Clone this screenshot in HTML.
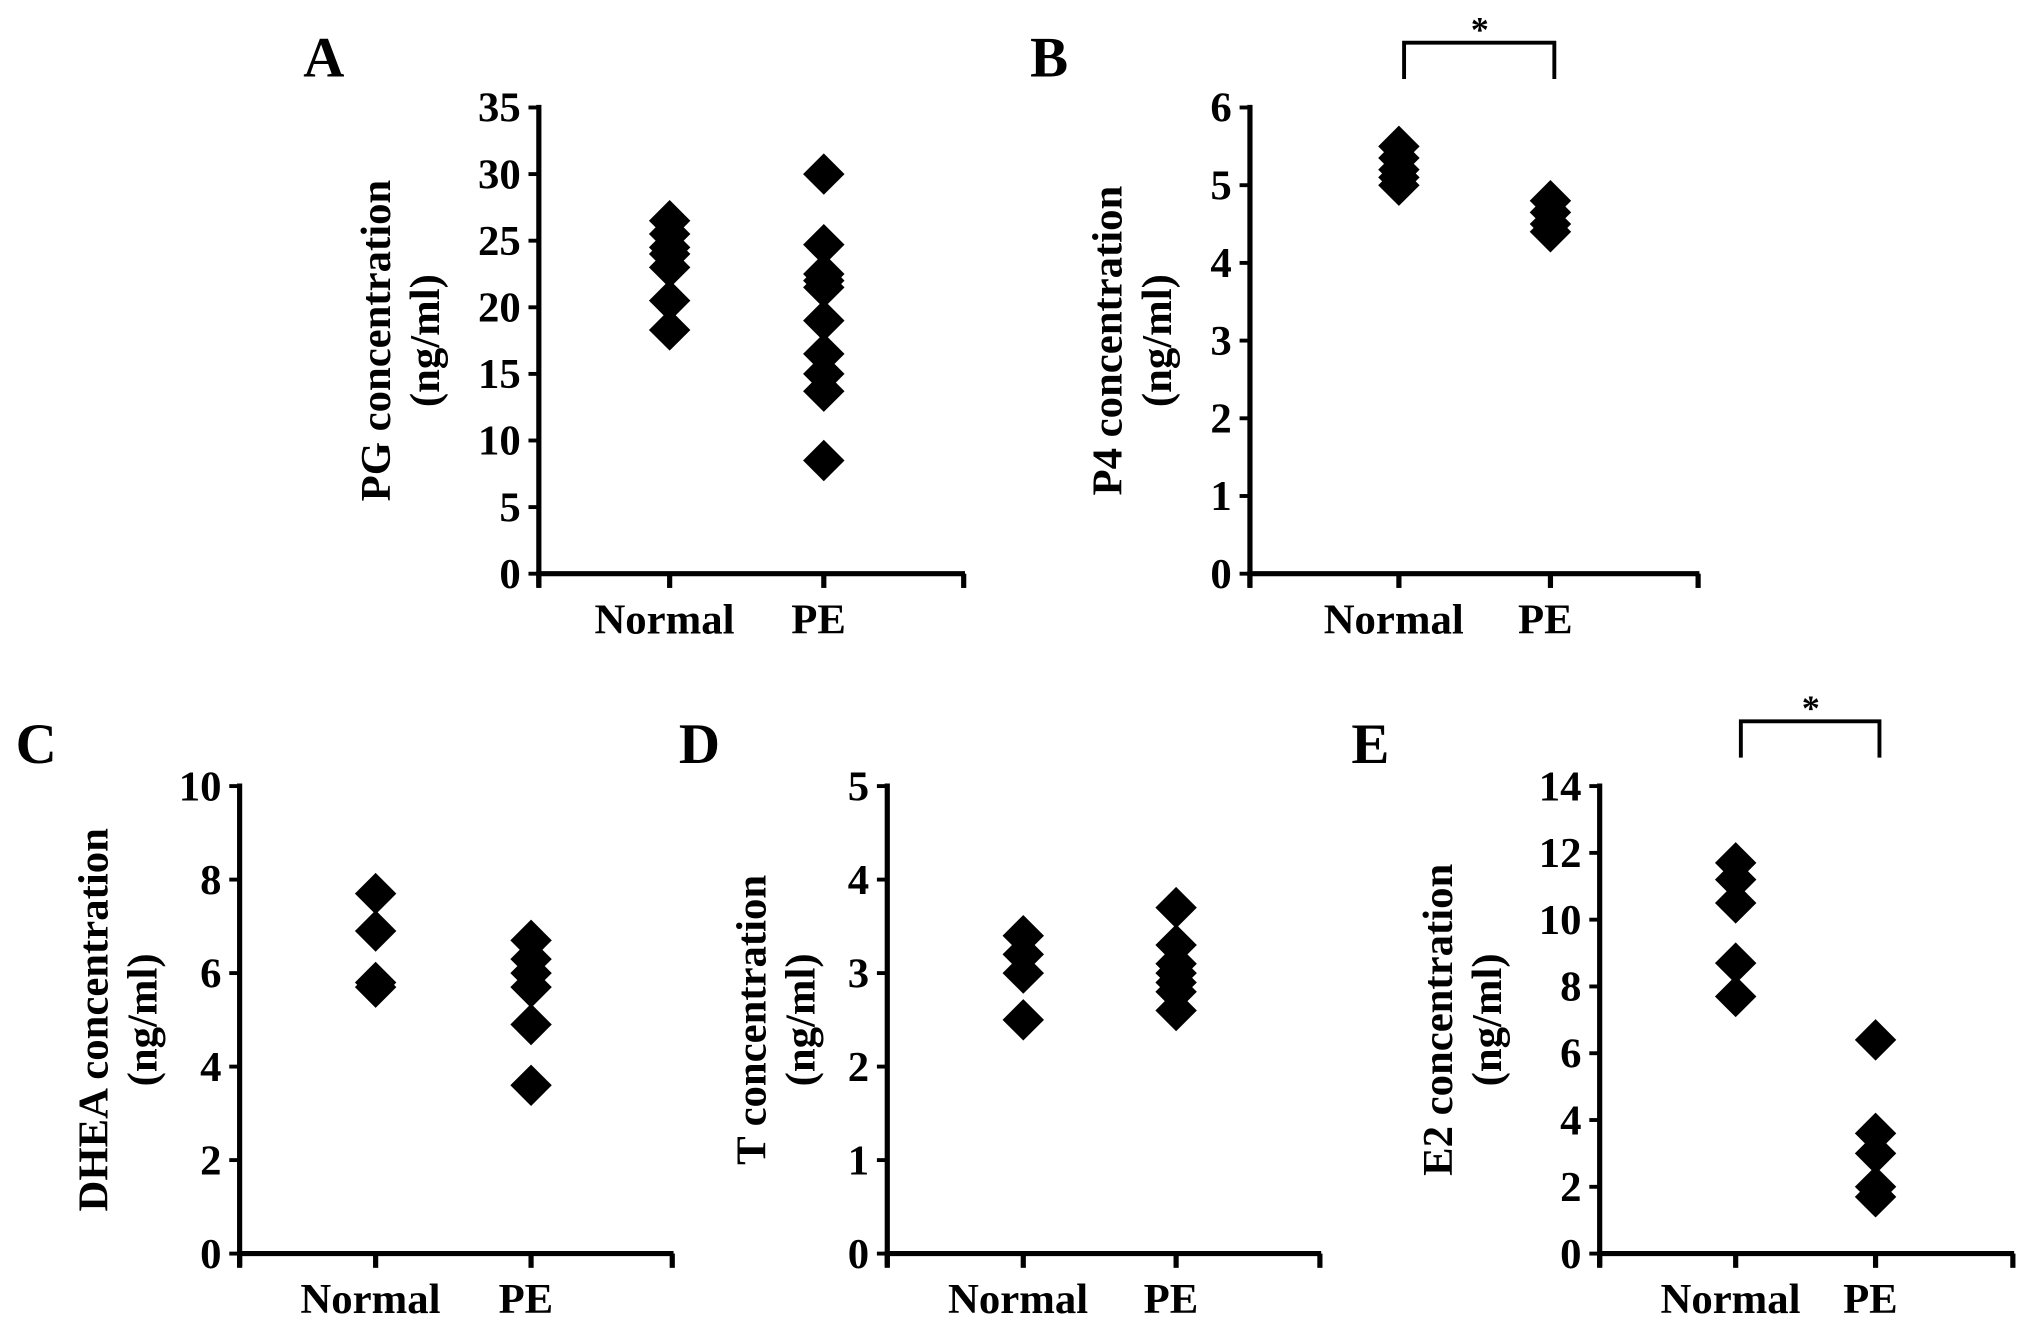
<!DOCTYPE html>
<html><head><meta charset="utf-8"><style>
html,body{margin:0;padding:0;background:#fff;}
svg{display:block;}
text{font-family:"Liberation Serif",serif;font-weight:bold;fill:#000;}
</style></head><body>
<svg id="fig" width="2031" height="1330" viewBox="0 0 1568 1027" preserveAspectRatio="none" xmlns="http://www.w3.org/2000/svg"></svg>
<script>
const categories = ["Normal", "PE"];
const panelLetters = ["A", "B", "C", "D", "E"];
const yLabels = ["PG concentration", "P4 concentration", "DHEA concentration", "T concentration", "E2 concentration"];
const yMaxes = [35, 6, 10, 5, 14];
const yStepsArr = [5, 1, 2, 1, 2];
const normalA = [26.5, 25.5, 24.5, 24, 23, 20.5, 18.3];
const peA = [30, 24.7, 22.5, 22, 21.5, 19, 16.5, 15, 13.7, 8.5];
const normalB = [5.5, 5.35, 5.2, 5.1, 5.0];
const peB = [4.8, 4.65, 4.5, 4.4];
const normalC = [7.7, 6.9, 5.8, 5.7];
const peC = [6.7, 6.3, 6.0, 5.7, 4.9, 3.6];
const normalD = [3.4, 3.2, 3.0, 2.5];
const peD = [3.7, 3.3, 3.1, 3.0, 2.9, 2.8, 2.6];
const normalE = [11.7, 11.2, 10.5, 8.7, 7.7];
const peE = [6.4, 3.6, 3.0, 2.0, 1.7];
const significant = [false, true, false, false, true];

const NS = "http://www.w3.org/2000/svg";
const svg = document.getElementById("fig");
function mk(tag, attrs, parent) {
  const e = document.createElementNS(NS, tag);
  for (const k in attrs) e.setAttribute(k, attrs[k]);
  (parent || svg).appendChild(e);
  return e;
}
const layouts = [
  {ax:416, top:83, bot:443, right:745, cx:[517,636], letter:[250,45], yl:[290,328]},
  {ax:965, top:83, bot:443, right:1312, cx:[1080,1197], letter:[810,45], yl:[855,893]},
  {ax:185, top:607, bot:968, right:520, cx:[290,410], letter:[28,575], yl:[72,110]},
  {ax:685, top:607, bot:968, right:1020, cx:[790,908], letter:[540,575], yl:[580,618]},
  {ax:1235, top:607, bot:968, right:1555, cx:[1340,1448], letter:[1058,575], yl:[1110,1148]}
];
const series = [[normalA, peA], [normalB, peB], [normalC, peC], [normalD, peD], [normalE, peE]];
const FS = 33;

layouts.forEach((L, i) => {
  const g = mk("g", {});
  
  
  const yMax = yMaxes[i], step = yStepsArr[i];
  const yS = v => L.bot - (v / yMax) * (L.bot - L.top);
  const lt = mk("text", {x:L.letter[0], y:L.letter[1]+14, "font-size":44, "text-anchor":"middle"}, g);
  lt.textContent = panelLetters[i];
  
  
  const ya = mk("line", {x1:L.ax, y1:L.top-2, x2:L.ax, y2:L.bot+10, stroke:"#000", "stroke-width":4}, g);
  
  
  for (let v = 0; v <= yMax + 1e-9; v += step) {
    const y = yS(v);
    mk("line", {x1:L.ax-8, y1:y, x2:L.ax, y2:y, stroke:"#000", "stroke-width":3}, g);
    const t = mk("text", {x:L.ax-14, y:y+11, "font-size":FS, "text-anchor":"end"}, g);
    t.textContent = String(v);
    
    
  }
  const xa = mk("line", {x1:L.ax-2, y1:L.bot, x2:L.right, y2:L.bot, stroke:"#000", "stroke-width":4}, g);
  
  
  [L.ax, L.cx[0], L.cx[1], L.right-1].forEach(x => mk("line", {x1:x, y1:L.bot, x2:x, y2:L.bot+11, stroke:"#000", "stroke-width":4}, g));
  categories.forEach((c, j) => {
    const t = mk("text", {x:L.cx[j]-4, y:L.bot+46, "font-size":FS, "text-anchor":"middle"}, g);
    t.textContent = c;
    
    
  });
  const cy = (L.top + L.bot) / 2;
  const t1 = mk("text", {x:L.yl[0], y:cy, "font-size":FS, "text-anchor":"middle", transform:`rotate(-90 ${L.yl[0]} ${cy})`, dy:11}, g);
  t1.textContent = yLabels[i];
  
  
  const t2 = mk("text", {x:L.yl[1], y:cy, "font-size":FS, "text-anchor":"middle", transform:`rotate(-90 ${L.yl[1]} ${cy})`, dy:11}, g);
  t2.textContent = "(ng/ml)";
  
  
  series[i].forEach((vals, j) => {
    vals.forEach(v => {
      const x = L.cx[j], y = yS(v), h = 16;
      const d = mk("polygon", {points:`${x},${y-h} ${x+h},${y} ${x},${y+h} ${x-h},${y}`, fill:"#000"}, g);
      
      
    });
  });
  if (significant[i]) {
    const by = L.top - 50;
    const b = mk("polyline", {points:`${L.cx[0]+4},${by+28} ${L.cx[0]+4},${by} ${L.cx[1]+3},${by} ${L.cx[1]+3},${by+28}`, fill:"none", stroke:"#000", "stroke-width":3}, g);
    
    
    const s = mk("text", {x:(L.cx[0]+L.cx[1])/2+4, y:by-1, "font-size":28, "text-anchor":"middle"}, g);
    s.textContent = "*";
    
    
  }
});
</script>
</body></html>
